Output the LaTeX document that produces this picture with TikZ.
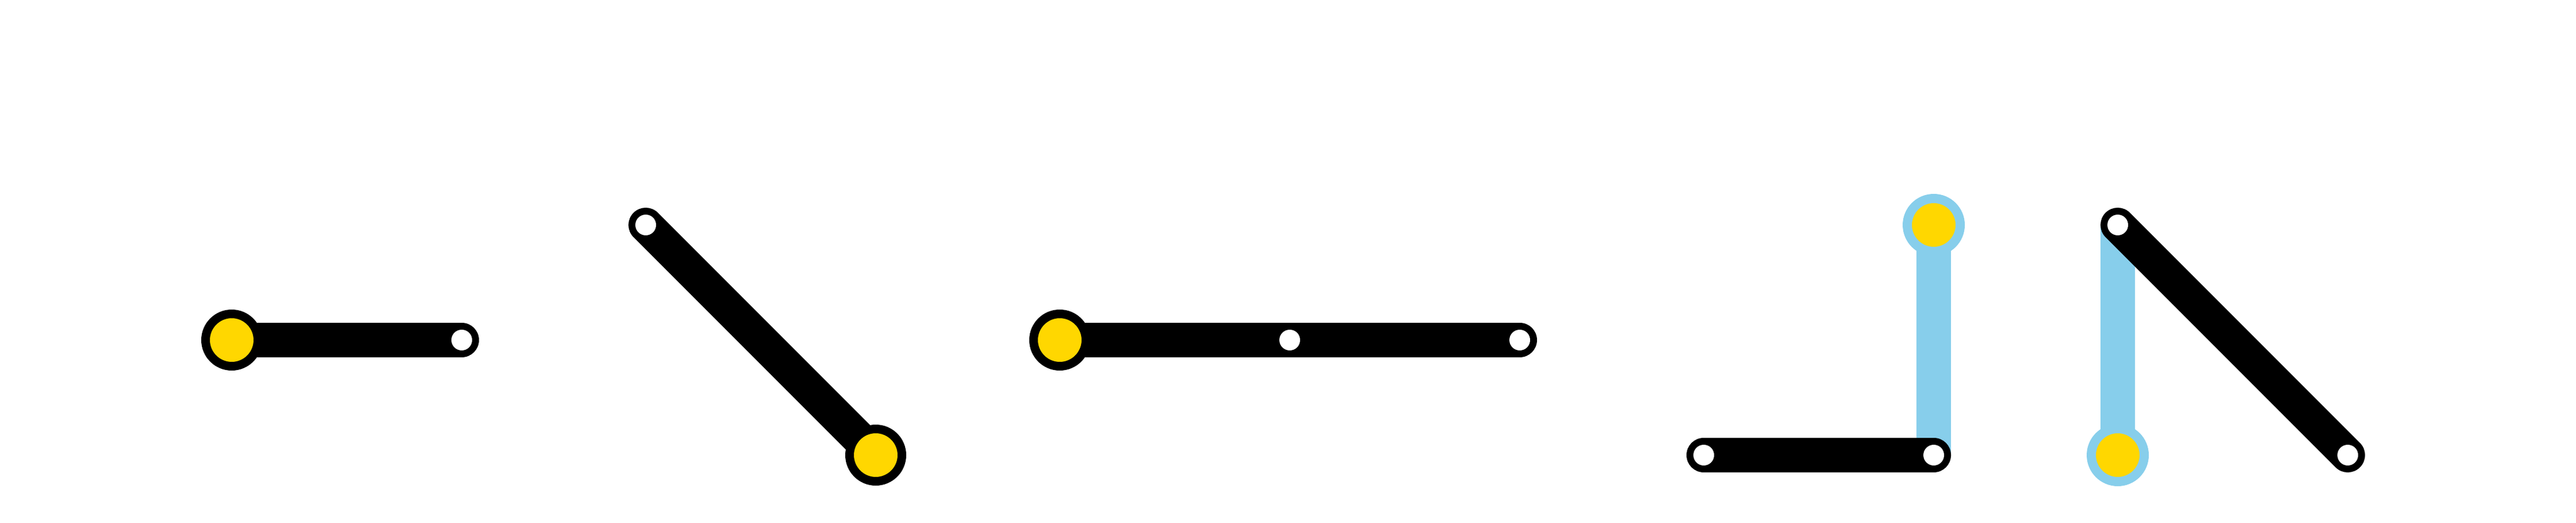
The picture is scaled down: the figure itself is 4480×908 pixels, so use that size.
\documentclass[tikz,border=0pt]{standalone}
\definecolor{gnd}{HTML}{FFD700}
\definecolor{sky}{HTML}{87CEEB}
\begin{document}
\begin{tikzpicture}[x=1pt,y=-1pt,
  blackbar/.style={draw=black,line width=60pt,line cap=round},
  bluebar/.style={draw=sky,line width=60pt,line cap=butt},
  pin/.style={circle,fill=white,inner sep=0pt,minimum size=36pt},
  ground/.style={circle,fill=gnd,draw=black,line width=15pt,inner sep=0pt,minimum size=91pt},
  groundsky/.style={circle,fill=gnd,draw=sky,line width=16pt,inner sep=0pt,minimum size=92pt}]
\useasboundingbox[fill=white] (0,0) rectangle (4480,908);
% joint positions
\coordinate (a1) at (403,591);  \coordinate (a2) at (803,591);
\coordinate (b1) at (1123,391); \coordinate (b2) at (1523,791);
\coordinate (c1) at (1843,591); \coordinate (c2) at (2243,591); \coordinate (c3) at (2643,591);
\coordinate (d1) at (2963,791); \coordinate (d2) at (3363,791); \coordinate (d3) at (3363,391);
\coordinate (e1) at (3683,791); \coordinate (e2) at (3683,391); \coordinate (e3) at (4083,791);
% blue links
\draw[bluebar] (d3) -- (d2);
\draw[bluebar] (e1) -- (e2);
% black links
\draw[blackbar] (a1) -- (a2);
\draw[blackbar] (b1) -- (b2);
\draw[blackbar] (c1) -- (c3);
\draw[blackbar] (d1) -- (d2);
\draw[blackbar] (e2) -- (e3);
% ground joints
\node[ground] (ga) at (a1) {};
\node[ground] (gb) at (b2) {};
\node[ground] (gc) at (c1) {};
\node[groundsky] (gd) at (d3) {};
\node[groundsky] (ge) at (e1) {};
% pins
\node[pin] (pa) at (a2) {};
\node[pin] (pb) at (b1) {};
\node[pin] (pc2) at (c2) {};
\node[pin] (pc3) at (c3) {};
\node[pin] (pd1) at (d1) {};
\node[pin] (pd2) at (d2) {};
\node[pin] (pe2) at (e2) {};
\node[pin] (pe3) at (e3) {};
\end{tikzpicture}
\end{document}
